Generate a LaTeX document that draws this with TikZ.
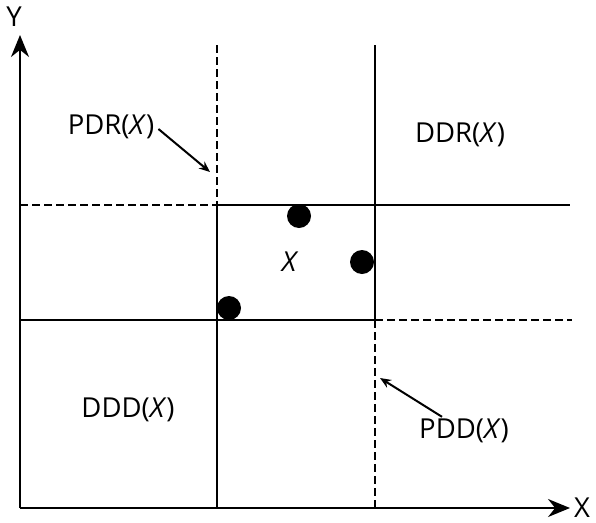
\documentclass[tikz,border=0pt]{standalone}
\usepackage{fontspec}
\setmainfont{Open Sans}
\usetikzlibrary{arrows.meta}
\begin{document}
\begin{tikzpicture}[x=1pt,y=-1pt,
  ln/.style={line width=2pt},
  dsh/.style={line width=2pt,dash pattern=on 8pt off 4pt},
  axis/.style={line width=2pt,-{Stealth[length=22pt,width=18pt]}},
  pointer/.style={line width=2pt,-{Stealth[length=11pt,width=9pt]}},
  lbl/.style={font=\fontsize{27.5}{32}\selectfont,inner sep=0pt},
  dot/.style={circle,fill=black,minimum size=24pt,inner sep=0pt}]
\useasboundingbox (0,0) rectangle (596,522);
% corner points of the grid
\coordinate (o) at (20,508);
\coordinate (ytip) at (20,35);
\coordinate (xtip) at (570,508);
\coordinate (v1t) at (217,45);
\coordinate (v1m) at (217,205);
\coordinate (v1b) at (217,508);
\coordinate (v2t) at (375,45);
\coordinate (v2m) at (375,320);
\coordinate (v2b) at (375,508);
\coordinate (h1l) at (20,205);
\coordinate (h1r) at (570,205);
\coordinate (h2l) at (20,320);
\coordinate (h2r) at (572,320);
% axes
\draw[axis] (o) -- (ytip);
\draw[axis] (o) -- (xtip);
\node[lbl] (ylab) at (14,17) {Y};
\node[lbl] (xlab) at (582,508) {X};
% grid lines
\draw[dsh] (v1t) -- (v1m);
\draw[ln] (v1m) -- (v1b);
\draw[ln] (v2t) -- (v2m);
\draw[dsh] (v2m) -- (v2b);
\draw[dsh] (h1l) -- (v1m);
\draw[ln] (v1m) -- (h1r);
\draw[ln] (h2l) -- (v2m);
\draw[dsh] (v2m) -- (h2r);
% points of X
\node[dot] (p1) at (299,216) {};
\node[dot] (p2) at (362,262) {};
\node[dot] (p3) at (229,308) {};
\node[lbl] (xs) at (289,262) {\itshape X};
% region labels
\node[lbl] (pdr) at (111,127) {PDR(\textit{X})};
\node[lbl] (ddr) at (460,135) {DDR(\textit{X})};
\node[lbl] (ddd) at (128,410) {DDD(\textit{X})};
\node[lbl] (pdd) at (464,431) {PDD(\textit{X})};
\coordinate (pdrtip) at (210,172);
\coordinate (pddtip) at (380,378);
\draw[pointer] (pdr.east) ++(4,2) -- (pdrtip);
\draw[pointer] (pdd.north) ++(-22,-2) -- (pddtip);
\end{tikzpicture}
\end{document}
